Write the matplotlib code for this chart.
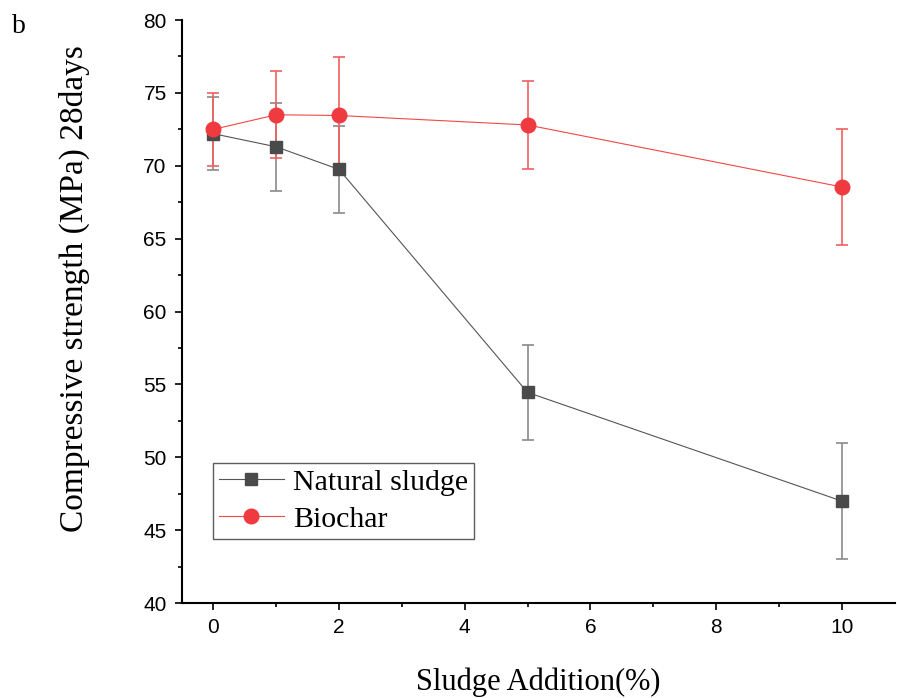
import matplotlib
matplotlib.use("Agg")
import matplotlib.pyplot as plt
from matplotlib.ticker import MultipleLocator

# Data
sludge_pct = [0, 1, 2, 5, 10]
natural_sludge = [72.2, 71.3, 69.75, 54.45, 47.0]
natural_err = [2.5, 3.0, 3.0, 3.25, 4.0]
biochar = [72.5, 73.5, 73.45, 72.8, 68.55]
biochar_err = [2.5, 3.0, 4.0, 3.0, 4.0]

serif = ["Liberation Serif", "DejaVu Serif"]
sans = ["Liberation Sans", "DejaVu Sans"]

fig = plt.figure(figsize=(8.97, 6.98), dpi=100)
ax = fig.add_axes([0.2029, 0.1361, 0.7949, 0.8352])

# Natural sludge
ax.errorbar(sludge_pct, natural_sludge, yerr=natural_err, fmt="none",
            ecolor="#8a8a8a", elinewidth=1.2, capsize=4, capthick=1.2, zorder=2)
ax.plot(sludge_pct, natural_sludge, color="#555555", lw=0.8, marker="s",
        markersize=9, markerfacecolor="#4a4a4a", markeredgecolor="#4a4a4a",
        label="Natural sludge", zorder=3)

# Biochar
ax.errorbar(sludge_pct, biochar, yerr=biochar_err, fmt="none",
            ecolor="#f06060", elinewidth=1.2, capsize=4, capthick=1.2, zorder=2)
ax.plot(sludge_pct, biochar, color="#f04848", lw=0.8, marker="o",
        markersize=10.5, markerfacecolor="#ef3b3f", markeredgecolor="#ef3b3f",
        label="Biochar", zorder=4)

ax.set_xlim(-0.5, 10.85)
ax.set_ylim(40, 80)
ax.xaxis.set_major_locator(MultipleLocator(2))
ax.xaxis.set_minor_locator(MultipleLocator(1))
ax.yaxis.set_major_locator(MultipleLocator(5))
ax.yaxis.set_minor_locator(MultipleLocator(2.5))

for s in ["top", "right"]:
    ax.spines[s].set_visible(False)
for s in ["left", "bottom"]:
    ax.spines[s].set_linewidth(1.5)

ax.tick_params(which="major", direction="out", length=5, width=1.2,
               labelsize=15, pad=6)
ax.tick_params(which="minor", direction="out", length=3, width=1.2)
for lab in ax.get_xticklabels() + ax.get_yticklabels():
    lab.set_family(sans)

ax.set_xlabel("Sludge Addition(%)", family=serif, fontsize=22, labelpad=22)
ax.set_ylabel("Compressive strength (MPa) 28days", family=serif, fontsize=24)
ax.yaxis.set_label_coords(-0.129, 0.54)

leg = ax.legend(loc="lower left", bbox_to_anchor=(0.043, 0.11),
                prop={"family": serif, "size": 21.5}, frameon=True,
                fancybox=False, edgecolor="#333333", handlelength=2.2,
                borderpad=0.2, labelspacing=0.35, handletextpad=0.3,
                borderaxespad=0)
leg.get_frame().set_linewidth(1.0)

fig.text(0.013, 0.953, "b", family=serif, fontsize=20)

fig.savefig("out.png", dpi=100)
